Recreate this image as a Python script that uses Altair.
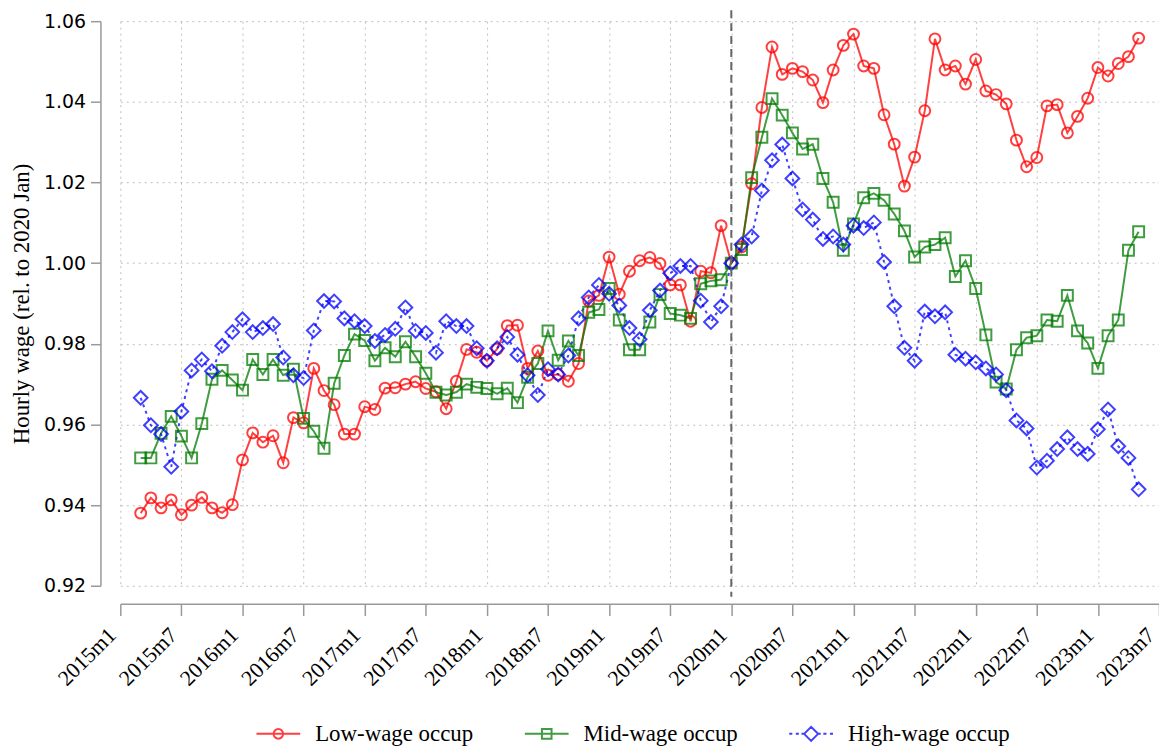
import altair as alt
import pandas as pd

# month index: 0 = 2015m1
months = list(range(2, 101))

low_wage = [0.9380, 0.9418, 0.9393, 0.9413, 0.9376, 0.9400, 0.9419, 0.9393, 0.9381, 0.9401,
            0.9512, 0.9579, 0.9556, 0.9572, 0.9505, 0.9617, 0.9604, 0.9739, 0.9684, 0.9649,
            0.9576, 0.9576, 0.9644, 0.9637, 0.9690, 0.9691, 0.9700, 0.9706, 0.9689, 0.9681,
            0.9639, 0.9707, 0.9786, 0.9779, 0.9758, 0.9787, 0.9845, 0.9846, 0.9739, 0.9782,
            0.9722, 0.9724, 0.9707, 0.9751, 0.9906, 0.9920, 1.0015, 0.9923, 0.9980, 1.0006,
            1.0014, 0.9999, 0.9946, 0.9946, 0.9856, 0.9980, 0.9976, 1.0093, 1.0000, 1.0040,
            1.0197, 1.0386, 1.0536, 1.0468, 1.0483, 1.0475, 1.0454, 1.0398, 1.0479, 1.0540,
            1.0568, 1.0489, 1.0483, 1.0368, 1.0295, 1.0191, 1.0263, 1.0378, 1.0556, 1.0479,
            1.0489, 1.0444, 1.0505, 1.0427, 1.0418, 1.0395, 1.0305, 1.0239, 1.0262, 1.0390,
            1.0393, 1.0323, 1.0364, 1.0409, 1.0485, 1.0464, 1.0495, 1.0512, 1.0558]

mid_wage = [0.9517, 0.9517, 0.9578, 0.9620, 0.9571, 0.9517, 0.9602, 0.9712, 0.9734, 0.9710,
            0.9685, 0.9761, 0.9724, 0.9761, 0.9722, 0.9737, 0.9615, 0.9583, 0.9541, 0.9702,
            0.9771, 0.9824, 0.9808, 0.9758, 0.9790, 0.9768, 0.9805, 0.9768, 0.9727, 0.9680,
            0.9673, 0.9680, 0.9700, 0.9692, 0.9689, 0.9676, 0.9690, 0.9654, 0.9717, 0.9751,
            0.9832, 0.9759, 0.9807, 0.9771, 0.9878, 0.9885, 0.9937, 0.9859, 0.9785, 0.9785,
            0.9854, 0.9922, 0.9875, 0.9871, 0.9863, 0.9949, 0.9956, 0.9959, 1.0000, 1.0034,
            1.0212, 1.0312, 1.0408, 1.0367, 1.0323, 1.0283, 1.0295, 1.0210, 1.0151, 1.0032,
            1.0097, 1.0162, 1.0173, 1.0156, 1.0122, 1.0080, 1.0015, 1.0040, 1.0046, 1.0063,
            0.9967, 1.0006, 0.9937, 0.9822, 0.9705, 0.9688, 0.9785, 0.9815, 0.9820, 0.9859,
            0.9856, 0.9920, 0.9832, 0.9802, 0.9739, 0.9820, 0.9859, 1.0032, 1.0078]

high_wage = [0.9666, 0.9598, 0.9576, 0.9495, 0.9632, 0.9734, 0.9761, 0.9732, 0.9795, 0.9829,
             0.9861, 0.9829, 0.9839, 0.9849, 0.9766, 0.9722, 0.9715, 0.9833, 0.9906, 0.9905,
             0.9863, 0.9856, 0.9844, 0.9807, 0.9822, 0.9837, 0.9890, 0.9832, 0.9827, 0.9778,
             0.9856, 0.9844, 0.9844, 0.9789, 0.9758, 0.9789, 0.9817, 0.9773, 0.9722, 0.9673,
             0.9737, 0.9724, 0.9771, 0.9863, 0.9915, 0.9946, 0.9924, 0.9895, 0.9839, 0.9811,
             0.9883, 0.9932, 0.9975, 0.9993, 0.9993, 0.9907, 0.9854, 0.9893, 1.0000, 1.0046,
             1.0066, 1.0180, 1.0255, 1.0294, 1.0210, 1.0133, 1.0108, 1.0060, 1.0066, 1.0046,
             1.0093, 1.0087, 1.0101, 1.0003, 0.9893, 0.9790, 0.9758, 0.9880, 0.9868, 0.9878,
             0.9773, 0.9763, 0.9754, 0.9739, 0.9724, 0.9685, 0.9610, 0.9590, 0.9493, 0.9510,
             0.9539, 0.9568, 0.9539, 0.9527, 0.9588, 0.9637, 0.9546, 0.9517, 0.9439]

series_names = ["Low-wage occup", "Mid-wage occup", "High-wage occup"]
series_colors = ["#ff0000", "#007b00", "#0000ff"]
marker_shapes = ["circle", "square", "diamond"]
marker_sizes = [120, 121, 190]
line_dashes = [[1, 0], [1, 0], [3, 4]]
x_tick_months = list(range(0, 103, 6))
y_ticks = [0.92, 0.94, 0.96, 0.98, 1.00, 1.02, 1.04, 1.06]
covid_month = [60]

legend_paths = [
    "M-1,0L1,0M-0.22,0A0.22,0.22,0,1,1,0.22,0A0.22,0.22,0,1,1,-0.22,0Z",
    "M-1,0L1,0M-0.22,-0.22L0.22,-0.22L0.22,0.22L-0.22,0.22Z",
    "M-1,0L-0.86,0M-0.7,0L-0.56,0M-0.44,0L-0.32,0M0.32,0L0.44,0M0.56,0L0.7,0M0.86,0L1,0"
    "M-0.32,0L0,-0.32L0.32,0L0,0.32Z",
]

rows = []
for name, vals in zip(series_names, [low_wage, mid_wage, high_wage]):
    for m, v in zip(months, vals):
        rows.append({"m": m, "value": v, "series": name})
df = pd.DataFrame(rows)

SERIF = "Liberation Serif"
SANS = "DejaVu Sans"

x_enc = alt.X(
    "m:Q",
    scale=alt.Scale(domain=[0, 102], nice=False, zero=False),
    axis=alt.Axis(
        values=x_tick_months,
        labelExpr="(2015 + floor(datum.value / 12)) + 'm' + (datum.value % 12 + 1)",
        labelAngle=315,
        labelAlign="right",
        labelBaseline="bottom",
        labelOverlap=False,
        labelFlush=False,
        labelBound=False,
        labelFont=SERIF,
        labelFontSize=22,
        offset=18,
        tickSize=12,
        labelPadding=24,
        grid=True,
        title=None,
    ),
)
y_enc = alt.Y(
    "value:Q",
    scale=alt.Scale(domain=[0.92, 1.06], nice=False, zero=False),
    axis=alt.Axis(
        values=y_ticks,
        format=".2f",
        offset=20,
        tickSize=10,
        labelPadding=5,
        labelFlush=False,
        labelFont=SANS,
        labelFontSize=19,
        grid=True,
        title="Hourly wage (rel. to 2020 Jan)",
        titleFont=SERIF,
        titleFontSize=23,
        titlePadding=10,
    ),
)
color_nolegend = alt.Color(
    "series:N", scale=alt.Scale(domain=series_names, range=series_colors), legend=None
)

base = alt.Chart(df)

lines = base.mark_line(strokeWidth=2, strokeOpacity=0.75).encode(
    x=x_enc,
    y=y_enc,
    color=color_nolegend,
    strokeDash=alt.StrokeDash(
        "series:N", scale=alt.Scale(domain=series_names, range=line_dashes), legend=None
    ),
    detail="series:N",
)

point_layers = []
for name, shp, sz in zip(series_names, marker_shapes, marker_sizes):
    point_layers.append(
        base.transform_filter(alt.datum.series == name)
        .mark_point(shape=shp, filled=False, size=sz, strokeWidth=2, opacity=0.75)
        .encode(x="m:Q", y="value:Q", color=color_nolegend)
    )

legend_cfg = alt.Legend(
    orient="none",
    legendX=136,
    legendY=694,
    direction="horizontal",
    title=None,
    symbolSize=1936,
    symbolStrokeWidth=2,
    symbolOpacity=0.75,
    symbolFillColor="transparent",
    labelFont=SERIF,
    labelFontSize=23,
    labelColor="black",
    labelOffset=14,
    columnPadding=47,
    labelLimit=400,
)

legend_layer = base.mark_point(filled=False, opacity=0, size=1936).encode(
    x="m:Q",
    y="value:Q",
    color=alt.Color("series:N", scale=alt.Scale(domain=series_names, range=series_colors), legend=legend_cfg),
    shape=alt.Shape("series:N", scale=alt.Scale(domain=series_names, range=legend_paths), legend=legend_cfg),
)

covid = alt.Chart(pd.DataFrame({"m": covid_month})).mark_rule(
    color="#666666", strokeDash=[8, 5], strokeWidth=2
).encode(x="m:Q", y=alt.value(-11), y2=alt.value(579))

chart = (
    alt.layer(lines, *point_layers, covid, legend_layer)
    .resolve_legend(color="independent", shape="independent", strokeDash="independent")
    .properties(
        width=1045,
        height=568,
        autosize=alt.AutoSizeParams(type="none"),
        padding={"left": 113, "top": 11, "right": 0, "bottom": 163},
    )
    .configure_view(stroke=None)
    .configure_axis(
        labelColor="black",
        titleColor="black",
        titleFontWeight="normal",
        gridColor="#bdbdbd",
        gridDash=[2, 4],
        gridWidth=1,
        domainColor="#999999",
        domainWidth=1.5,
        tickColor="#999999",
        tickWidth=1.5,
    )
)

chart.save("out.html", embed_options={"renderer": "svg", "actions": False})
